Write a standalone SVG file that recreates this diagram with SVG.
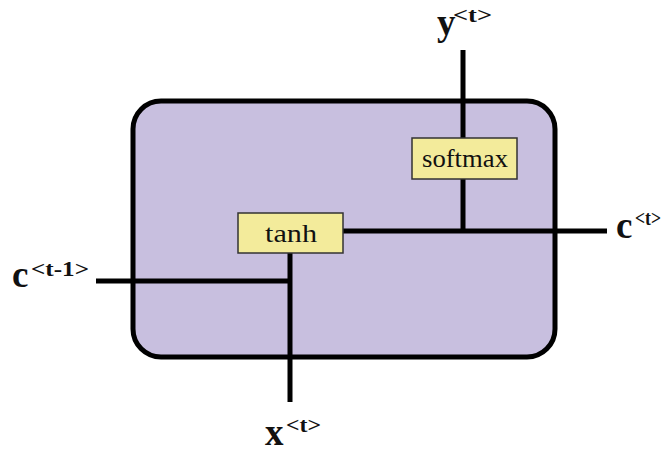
<svg xmlns="http://www.w3.org/2000/svg" width="670" height="452" viewBox="0 0 670 452">
<style>
.ln{stroke:#000;stroke-width:5;fill:none}
.gate{fill:#f3eb9b;stroke:#333;stroke-width:1.5}
.gt{font-family:"Liberation Serif",serif;font-size:25px;fill:#111}
.lbl{font-family:"Liberation Serif",serif;font-weight:bold;font-size:37px;fill:#111}
.sup{font-family:"Liberation Serif",serif;font-weight:bold;font-size:21px;fill:#111}
</style>
<rect width="670" height="452" fill="#fff"/>
<g id="cell"><rect x="133" y="101" width="422" height="256" rx="28" fill="#c8bfdf" stroke="#000" stroke-width="5"/></g>
<g id="connectors">
<line class="ln" x1="463" y1="50" x2="463" y2="232"/>
<line class="ln" x1="343" y1="231" x2="607" y2="231"/>
<line class="ln" x1="290" y1="253" x2="290" y2="402"/>
<line class="ln" x1="96" y1="281" x2="292" y2="281"/>
</g>
<g id="softmax"><rect class="gate" x="412" y="138" width="105" height="41"/><text class="gt" x="422" y="167" textLength="86" lengthAdjust="spacingAndGlyphs">softmax</text></g>
<g id="tanh"><rect class="gate" x="238" y="213" width="105" height="40"/><text class="gt" x="265" y="242" textLength="52" lengthAdjust="spacingAndGlyphs">tanh</text></g>
<g id="y"><text class="lbl" x="437" y="35">y</text><text class="sup" x="453" y="22" textLength="39" lengthAdjust="spacingAndGlyphs">&lt;t&gt;</text></g>
<g id="c_out"><text class="lbl" x="616" y="238">c</text><text class="sup" x="635" y="225" textLength="26" lengthAdjust="spacingAndGlyphs">&lt;t&gt;</text></g>
<g id="c_in"><text class="lbl" x="12" y="287">c</text><text class="sup" x="31" y="276" textLength="58" lengthAdjust="spacingAndGlyphs">&lt;t-1&gt;</text></g>
<g id="x"><text class="lbl" x="265" y="445">x</text><text class="sup" x="286" y="432" textLength="35" lengthAdjust="spacingAndGlyphs">&lt;t&gt;</text></g>
</svg>
